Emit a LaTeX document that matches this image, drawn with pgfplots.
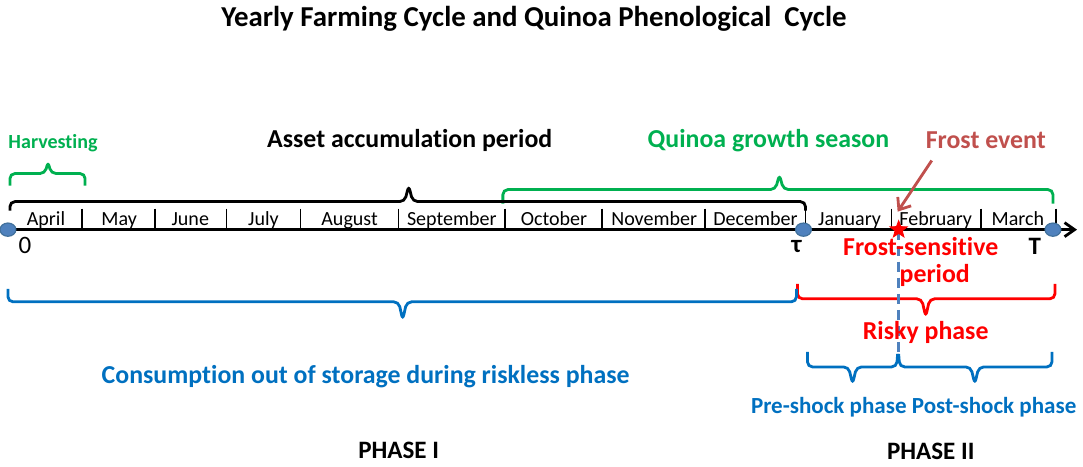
\documentclass[border=0pt]{standalone}
\usepackage{pgfplots}
\pgfplotsset{compat=1.18}
\usepackage{fontspec}
\setmainfont{Carlito}[Ligatures=NoCommon]
\usetikzlibrary{arrows.meta}
\definecolor{cgreen}{HTML}{00B050}
\definecolor{cblue}{HTML}{0070C0}
\definecolor{cred}{HTML}{FF0000}
\definecolor{cfrost}{HTML}{C0504D}
\definecolor{cdot}{HTML}{4F81BD}
\definecolor{cdotd}{HTML}{41719C}
\pgfdeclareplotmark{fivestar}{%
  \pgfpathmoveto{\pgfpointpolar{90}{\pgfplotmarksize}}%
  \pgfpathlineto{\pgfpointpolar{126}{0.42\pgfplotmarksize}}%
  \pgfpathlineto{\pgfpointpolar{162}{\pgfplotmarksize}}%
  \pgfpathlineto{\pgfpointpolar{198}{0.42\pgfplotmarksize}}%
  \pgfpathlineto{\pgfpointpolar{234}{\pgfplotmarksize}}%
  \pgfpathlineto{\pgfpointpolar{270}{0.42\pgfplotmarksize}}%
  \pgfpathlineto{\pgfpointpolar{306}{\pgfplotmarksize}}%
  \pgfpathlineto{\pgfpointpolar{342}{0.42\pgfplotmarksize}}%
  \pgfpathlineto{\pgfpointpolar{18}{\pgfplotmarksize}}%
  \pgfpathlineto{\pgfpointpolar{54}{0.42\pgfplotmarksize}}%
  \pgfpathclose
  \pgfusepathqfillstroke}
\newcommand{\fs}[1]{\fontsize{#1}{#1}\selectfont}
\begin{document}
\begin{tikzpicture}
\begin{axis}[
  set layers,
  scale only axis, width=541.5pt, height=232pt,
  xmin=0, xmax=1083, ymin=0, ymax=464, y dir=reverse,
  axis lines=none, clip=false,
  every node/.style={inner sep=0pt, anchor=center},
]
% month separators
\addplot[black, line width=0.8pt, forget plot] coordinates {(84,205)(84,226)};
\addplot[black, line width=0.8pt, forget plot] coordinates {(157,205)(157,226)};
\addplot[black, line width=0.8pt, forget plot] coordinates {(228,205)(228,226)};
\addplot[black, line width=0.8pt, forget plot] coordinates {(302,205)(302,226)};
\addplot[black, line width=0.8pt, forget plot] coordinates {(400,205)(400,226)};
\addplot[black, line width=0.8pt, forget plot] coordinates {(506,205)(506,226)};
\addplot[black, line width=0.8pt, forget plot] coordinates {(603,205)(603,226)};
\addplot[black, line width=0.8pt, forget plot] coordinates {(706,205)(706,226)};
\addplot[black, line width=0.8pt, forget plot] coordinates {(806,205)(806,226)};
\addplot[black, line width=0.8pt, forget plot] coordinates {(892,205)(892,226)};
\addplot[black, line width=0.8pt, forget plot] coordinates {(981,205)(981,226)};
\addplot[black, line width=0.8pt, forget plot] coordinates {(1056,205)(1056,226)};
% main time axis
\addplot[black, line width=1.4pt, -{Straight Barb[length=5pt,width=7pt]}] coordinates {(10,226)(1077,226)};
% brackets
\addplot[cgreen, line width=1.4pt, rounded corners=2.5pt] coordinates {(12,182)(12,170)(47,170)(50,158)(53,170)(87,170)(87,182)};
\addplot[cgreen, line width=1.4pt, rounded corners=2.5pt] coordinates {(504,200)(504,186)(776,186)(780,171)(784,186)(1053,186)(1053,200)};
\addplot[black, line width=1.4pt, rounded corners=2.5pt] coordinates {(12,207)(12,198)(406,198)(410,182)(414,198)(806,198)(806,207)};
\addplot[cred, line width=1.4pt, rounded corners=2.5pt] coordinates {(798,280)(798,295)(922,295)(926,313)(930,295)(1055,295)(1055,280)};
\addplot[cblue, line width=1.4pt, rounded corners=2.5pt] coordinates {(10,285)(10,298)(400,298)(404,316)(408,298)(797,298)(797,285)};
\addplot[cblue, line width=1.4pt, rounded corners=2.5pt] coordinates {(808,348)(808,363)(849,363)(853,380)(857,363)(897,363)(898,350)};
\addplot[cblue, line width=1.4pt, rounded corners=2.5pt] coordinates {(899,350)(900,363)(971,363)(975,380)(979,363)(1052,363)(1052,348)};
% frost arrow
\addplot[cfrost, line width=1.4pt, -{Straight Barb[length=5pt,width=8pt]}] coordinates {(932,157)(898,208)};
% dots
\addplot[only marks, mark=*, mark size=3.3pt, mark options={xscale=1.2, fill=cdot, draw=cdotd, line width=0.6pt}] coordinates {(10,226)(804,226)(1053,226)};
% star
\addplot[only marks, mark=fivestar, mark size=4.5pt, mark options={fill=cred, draw=cred, line width=0.4pt}] coordinates {(899,226)};
% shock line
\addplot[cdot, line width=1.4pt, dash pattern=on 5pt off 3pt] coordinates {(899,226)(899,352)};
% texts
\begin{pgfonlayer}{axis foreground}
\node at (axis cs:535,16) {\fs{14.4}\bfseries Yearly Farming Cycle and Quinoa Phenological\ \ Cycle};
\node[text=cgreen] at (axis cs:55,140) {\fs{10}\bfseries Harvesting};
\node at (axis cs:411,137) {\fs{12.9}\bfseries Asset accumulation period};
\node[text=cgreen] at (axis cs:769,137) {\fs{12.9}\bfseries Quinoa growth season};
\node[text=cfrost] at (axis cs:986,137) {\fs{12.9}\bfseries Frost event};
\begin{scope}[every node/.style={inner sep=0pt, anchor=base}]
\node at (axis cs:48,222) {\fs{10}April};
\node at (axis cs:121,222) {\fs{10}May};
\node at (axis cs:192,222) {\fs{10}June};
\node at (axis cs:265,222) {\fs{10}July};
\node at (axis cs:351,222) {\fs{10}August};
\node at (axis cs:453,222) {\fs{10}September};
\node at (axis cs:555,222) {\fs{10}October};
\node at (axis cs:655,222) {\fs{10}November};
\node at (axis cs:756,222) {\fs{10}December};
\node at (axis cs:850,222) {\fs{10}January};
\node at (axis cs:936,222) {\fs{10}February};
\node at (axis cs:1018,222) {\fs{10}March};
\end{scope}
\node at (axis cs:27,242) {\fs{12.5}0};
\node at (axis cs:797,243) {\fs{12.5}\bfseries τ};
\node at (axis cs:1035,243) {\fs{12.5}\bfseries T};
\node[text=cred] at (axis cs:921,243) {\fs{12.9}\bfseries Frost-sensitive};
\node[text=cred] at (axis cs:935,272) {\fs{12.9}\bfseries period};
\node[text=cred] at (axis cs:926,329) {\fs{12.9}\bfseries Risky phase};
\node[text=cblue] at (axis cs:367,373) {\fs{12.9}\bfseries Consumption out of storage during riskless phase};
\node[text=cblue] at (axis cs:914,403) {\fs{11.5}\bfseries Pre-shock phase Post-shock phase};
\node at (axis cs:400,446) {\fs{12.5}\bfseries PHASE I};
\node at (axis cs:931,447) {\fs{12.5}\bfseries PHASE II};
\end{pgfonlayer}
\end{axis}
\end{tikzpicture}
\end{document}
